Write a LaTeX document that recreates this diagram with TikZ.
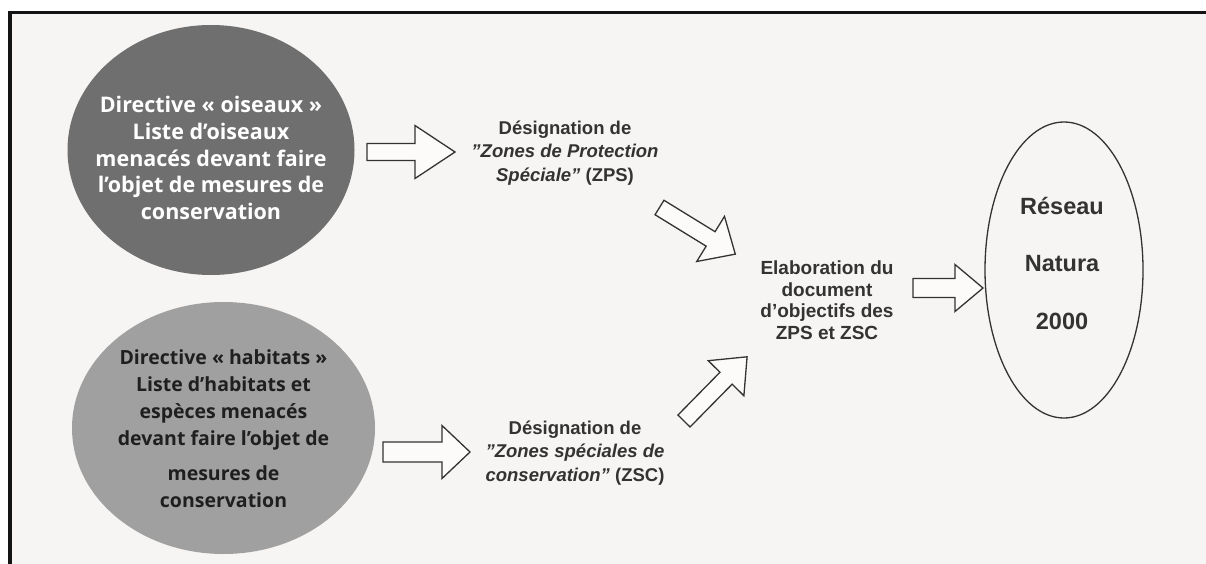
\documentclass[tikz,border=0pt]{standalone}
\usepackage{fontspec}
\setmainfont{Liberation Sans}
\newfontfamily\myr{Open Sans}
\usetikzlibrary{shapes.geometric}
\definecolor{bgc}{HTML}{F7F5F3}
\definecolor{eone}{HTML}{6F6F6F}
\definecolor{etwo}{HTML}{A0A0A0}
\definecolor{ink}{HTML}{333333}
\tikzset{
  barrow/.style={draw=ink, line width=1.3pt, fill=bgc!40!white, line join=miter},
  bigell/.style={ellipse, inner sep=0pt, draw=none},
  ztext/.style={font=\bfseries\fontsize{18.5}{23.5}\selectfont, text=ink, align=center, inner sep=0pt},
}
\newcommand\blockarrow[8]{%
  \begin{scope}[shift={(#2,#3)}, rotate=#4]
    \coordinate (#1-tail) at (0,0);
    \coordinate (#1-tip) at (#5,0);
    \draw[barrow] (0,{-#6/2}) -- ({#5-#8},{-#6/2}) -- ({#5-#8},{-#7/2}) -- (#5,0)
      -- ({#5-#8},{#7/2}) -- ({#5-#8},{#6/2}) -- (0,{#6/2}) -- cycle;
  \end{scope}}
\begin{document}
\begin{tikzpicture}[x=1pt,y=-1pt]
\useasboundingbox (0,0) rectangle (1206,564);
\fill[white] (0,0) rectangle (1206,564);
\fill[bgc] (11,14) rectangle (1206,564);
\fill[black!92] (8,11) rectangle (1206,14);
\fill[black!92] (8,11) rectangle (11.5,564);

% left ellipses
\node[bigell, fill=eone, minimum width=287pt, minimum height=250pt] (e1) at (211,150) {};
\node[font=\myr\bfseries\fontsize{21.5}{26.7}\selectfont, text=white, align=center, inner sep=0pt]
  (t1) at (211,158) {Directive « oiseaux »\\Liste d’oiseaux\\menacés devant faire\\l’objet de mesures de\\conservation};
\node[bigell, fill=etwo, minimum width=303pt, minimum height=252pt] (e2) at (223.5,428) {};
\node[font=\myr\bfseries\fontsize{19.5}{27}\selectfont, text=black!88, align=center, inner sep=0pt]
  (t2) at (223.5,429) {Directive « habitats »\\Liste d’habitats et\\espèces menacés\\devant faire l’objet de\\[8pt]mesures de\\conservation};

% middle texts
\node[ztext] (zps) at (565,153) {Désignation de\\\textit{"Zones de Protection}\\\textit{Spéciale"} (ZPS)};
\node[ztext] (zsc) at (575,453) {Désignation de\\\textit{"Zones spéciales de}\\\textit{conservation"} (ZSC)};
\node[ztext, font=\bfseries\fontsize{19}{21.5}\selectfont] (elab) at (827,300) {Elaboration du\\document\\d'objectifs des\\ZPS et ZSC};

% right ellipse
\node[ellipse, draw=ink, line width=1.3pt, minimum width=158pt, minimum height=296pt, inner sep=0pt] (net) at (1064,270) {};
\node[ztext, font=\bfseries\fontsize{23.5}{57.5}\selectfont] (nett) at (1062,263) {Réseau\\Natura\\2000};

% block arrows
\blockarrow{a1}{367}{152}{0}{88}{17}{53}{40}
\blockarrow{a2}{659.5}{207.5}{-31.6}{89}{17}{53}{29}
\blockarrow{a3}{684}{421}{45.5}{90}{17}{50}{30}
\blockarrow{a4}{383}{452}{0}{87}{20}{53}{28}
\blockarrow{a5}{913}{288}{0}{70}{19}{47}{28}
\end{tikzpicture}
\end{document}
